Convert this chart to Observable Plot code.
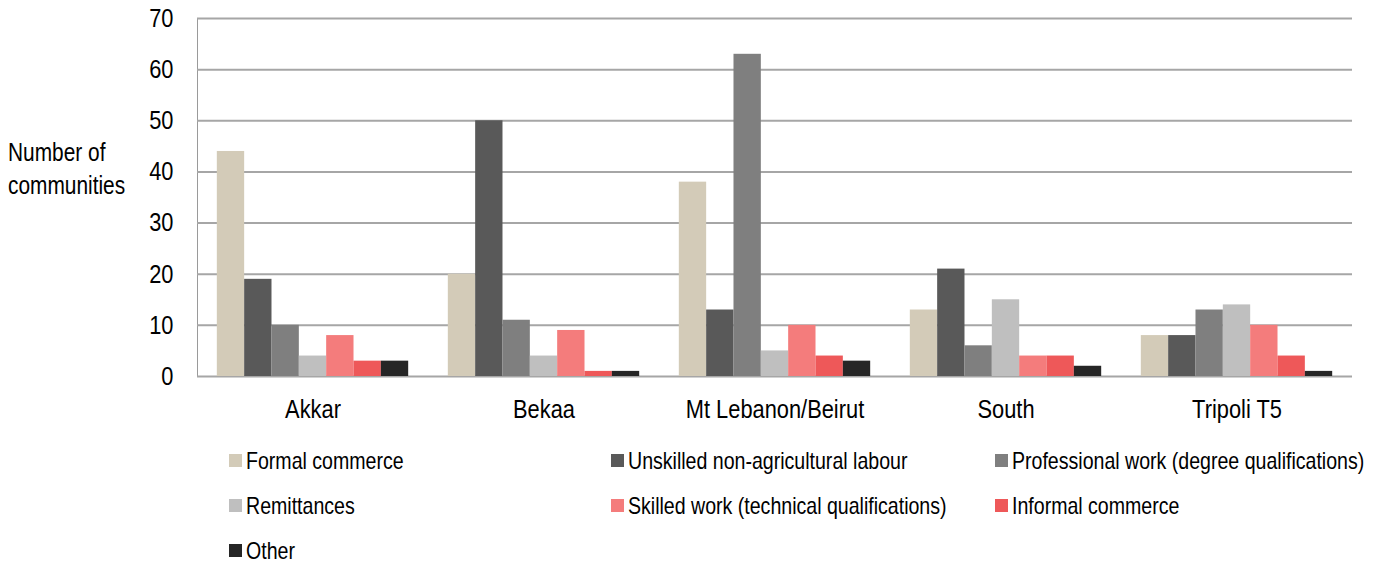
<!DOCTYPE html>
<html>
<head>
<meta charset="utf-8">
<script src="https://cdn.jsdelivr.net/npm/d3@7"></script>
<script src="https://cdn.jsdelivr.net/npm/@observablehq/plot@0.6"></script>
<style>
  html, body { margin: 0; padding: 0; background: #fff; overflow: hidden; }
  body { width: 1377px; height: 564px; position: relative;
         font-family: "Liberation Sans", Arial, sans-serif; }
  #ylabel { position: absolute; left: 8px; top: 136px; font-size: 25px; line-height: 33px; color: #000;
            transform: scaleX(0.835); transform-origin: left center; white-space: nowrap; }
  #chart svg text { fill: #000; }
  #legend { display: grid; grid-template-columns: 382px 384px 400px; grid-auto-rows: 45px;
            margin-left: 229px; margin-top: 8px; font-size: 24px; color: #000; }
  .item { display: flex; align-items: center; white-space: nowrap; }
  .sw { width: 13px; height: 13px; margin-right: 4px; flex: none; }
  .txt { display: inline-block; transform: scaleX(0.815); transform-origin: left center; }
</style>
</head>
<body>
<div id="chart"></div>
<div id="ylabel">Number of<br>communities</div>
<div id="legend"></div>
<script>
const regions = ["Akkar", "Bekaa", "Mt Lebanon/Beirut", "South", "Tripoli T5"];
const series = [
  "Formal commerce",
  "Unskilled non-agricultural labour",
  "Professional work (degree qualifications)",
  "Remittances",
  "Skilled work (technical qualifications)",
  "Informal commerce",
  "Other"
];
const colors = ["#d3cbb8", "#595959", "#7f7f7f", "#bfbfbf", "#f47c7c", "#ee5859", "#262626"];

const formalCommerce   = [44, 20, 38, 13, 8];
const unskilledLabour  = [19, 50, 13, 21, 8];
const professionalWork = [10, 11, 63, 6, 13];
const remittances      = [4, 4, 5, 15, 14];
const skilledWork      = [8, 9, 10, 4, 10];
const informalCommerce = [3, 1, 4, 4, 4];
const other            = [3, 1, 3, 2, 1];

const yTicks = [0, 10, 20, 30, 40, 50, 60, 70];

const seriesValues = [formalCommerce, unskilledLabour, professionalWork, remittances, skilledWork, informalCommerce, other];
const data = [];
regions.forEach((r, i) => {
  series.forEach((s, j) => data.push({region: r, series: s, value: seriesValues[j][i]}));
});

const FONT = '"Liberation Sans", Arial, sans-serif';

const chart = Plot.plot({
  width: 1377,
  height: 430,
  marginTop: 18,
  marginBottom: 54,
  marginLeft: 197,
  marginRight: 25,
  style: {fontFamily: FONT, fontSize: "26px", color: "#9a9a9a", background: "transparent"},
  fx: {domain: regions, padding: 0, round: false, label: null, axis: "bottom", tickSize: 0, tickPadding: 23},
  x: {domain: series, paddingInner: 0, paddingOuter: 0.725, round: false, axis: null},
  y: {domain: [0, 70], ticks: yTicks, tickSize: 0, tickPadding: 24, label: null, line: true},
  color: {domain: series, range: colors},
  marks: [
    Plot.ruleY(yTicks, {stroke: "#a6a6a6", strokeWidth: 2}),
    Plot.barY(data, {fx: "region", x: "series", y: "value", fill: "series"})
  ]
});
document.getElementById("chart").appendChild(chart);

// condense axis text (reference uses a narrow face)
d3.select(chart).selectAll("text").each(function() {
  const t = this.getAttribute("transform") || "";
  this.setAttribute("transform", (t + " scale(0.84,1)").trim());
});

const legend = d3.select("#legend");
series.forEach((s, i) => {
  const item = legend.append("div").attr("class", "item");
  item.append("span").attr("class", "sw").style("background", colors[i]);
  item.append("span").attr("class", "txt").text(s);
});
</script>
</body>
</html>
